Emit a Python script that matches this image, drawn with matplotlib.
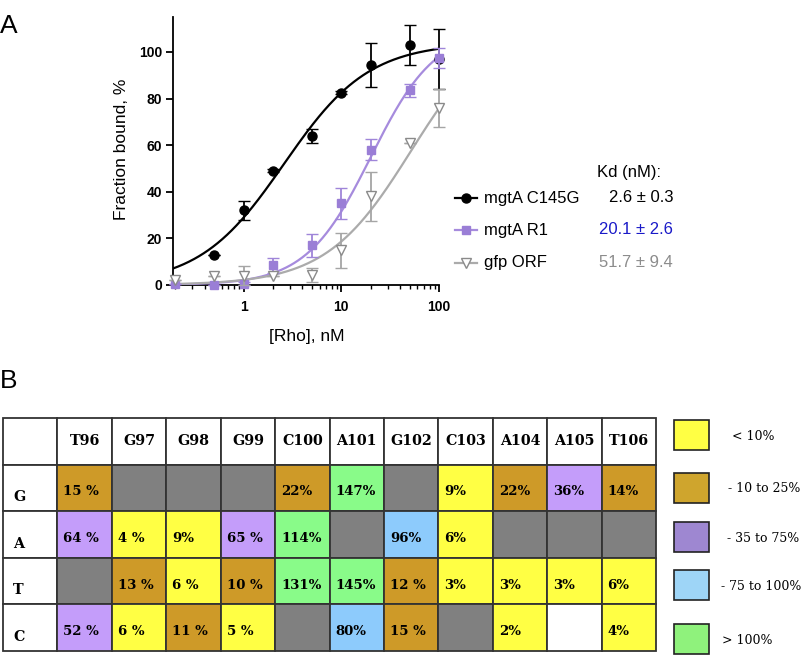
import numpy as np
import matplotlib
matplotlib.use("Agg")
import matplotlib.pyplot as plt
from matplotlib.lines import Line2D
from matplotlib.patches import Rectangle
from matplotlib.ticker import FixedLocator, NullFormatter

plt.rcParams['font.family'] = ['Liberation Sans', 'DejaVu Sans']

# ---------------- Panel A data ----------------
conc = [0.2, 0.5, 1, 2, 5, 10, 20, 50, 100]
c145g = [np.nan, 13, 32, 49, 64, 82.5, 94.5, 103, 97]
c145g_err = [0, 0, 4, 0.6, 3, 0.6, 9.5, 8.5, 13]
r1 = [0.3, 0.2, 0.6, 8.5, 17, 35, 58, 83.5, 97.5]
r1_err = [0, 0, 0.5, 3.3, 4.8, 6.8, 4.5, 2.7, 4.3]
gfp = [2, 4, 4, 4, 4.5, 15, 38, 61, 76]
gfp_err = [0, 0, 4, 0, 3, 7.5, 10.5, 0, 8]

series_names = ["mgtA C145G", "mgtA R1", "gfp ORF"]
kd_labels = ["2.6 \u00b1 0.3", "20.1 \u00b1 2.6", "51.7 \u00b1 9.4"]
# fitted binding-curve parameters (Kd, Bmax, Hill slope)
fit_kd = [2.6, 20.1, 51.7]
fit_bmax = [104, 110, 115]
fit_hill = [1.0, 1.31, 1.0]

# ---------------- Panel B data ----------------
positions = ["T96", "G97", "G98", "G99", "C100", "A101", "G102", "C103", "A104", "A105", "T106"]
bases = ["G", "A", "T", "C"]
cell_text = [
    ["15 %", "", "", "", "22%", "147%", "", "9%", "22%", "36%", "14%"],
    ["64 %", "4 %", "9%", "65 %", "114%", "", "96%", "6%", "", "", ""],
    ["", "13 %", "6 %", "10 %", "131%", "145%", "12 %", "3%", "3%", "3%", "6%"],
    ["52 %", "6 %", "11 %", "5 %", "", "80%", "15 %", "", "2%", "", "4%"],
]
# categories: y <10%, o 10-25%, p 35-75%, b 75-100%, g >100%, x gray (n/a), w white
cell_cat = [
    ["o", "x", "x", "x", "o", "g", "x", "y", "o", "p", "o"],
    ["p", "y", "y", "p", "g", "x", "b", "y", "x", "x", "x"],
    ["x", "o", "y", "o", "g", "g", "o", "y", "y", "y", "y"],
    ["p", "y", "o", "y", "x", "b", "o", "x", "y", "w", "y"],
]
legend_labels = ["< 10%", "- 10 to 25%", "- 35 to 75%", "- 75 to 100%", "> 100%"]

cell_colors = {"y": "#FFFF44", "o": "#CE9A28", "p": "#C49DFA", "b": "#8DCBFC",
               "g": "#89FB89", "x": "#808080", "w": "#FFFFFF"}
legend_colors = ["#FFFF44", "#CFA52D", "#9E87D1", "#9ED5F7", "#8FF27C"]

W, H = 805, 657
fig = plt.figure(figsize=(W / 100, H / 100), dpi=100)


def fx(px):
    return px / W


def fy(py):
    return 1 - py / H


# ---------------- Panel A ----------------
ax = fig.add_axes([fx(173), fy(285), fx(439) - fx(173), fy(17) - fy(285)])
ax.set_xscale("log")
ax.set_xlim(0.19, 100)
ax.set_ylim(0, 115)

styles = [
    dict(color="black", curve="black", marker="o", ms=6.5, mfc="black", mec="black", ecolor="black"),
    dict(color="#9A7ED6", curve="#A68BDD", marker="s", ms=6, mfc="#9A7ED6", mec="#9A7ED6", ecolor="#9F85D9"),
    dict(color="#9A9A9A", curve="#ABABAB", marker="v", ms=7, mfc="white", mec="#8A8A8A", ecolor="#A5A5A5"),
]
data = [(c145g, c145g_err), (r1, r1_err), (gfp, gfp_err)]
xs = np.geomspace(0.19, 100, 400)
for i in [2, 1, 0]:
    st = styles[i]
    yv, ye = data[i]
    K, B, n = fit_kd[i], fit_bmax[i], fit_hill[i]
    ax.plot(xs, B * xs ** n / (K ** n + xs ** n), color=st["curve"], lw=1.6, zorder=2 + i)
    eb = ax.errorbar(conc, yv, yerr=ye, fmt=st["marker"], ms=st["ms"], mfc=st["mfc"],
                     mec=st["mec"], mew=1.0, ecolor=st["ecolor"], elinewidth=1.3,
                     capsize=4.5, capthick=1.3, zorder=5 + i, clip_on=False)
    for a in list(eb.lines[1]) + list(eb.lines[2]):
        a.set_clip_on(False)

for s in ["top", "right"]:
    ax.spines[s].set_visible(False)
ax.spines["left"].set_linewidth(1.3)
ax.spines["bottom"].set_linewidth(1.3)
ax.set_yticks([0, 20, 40, 60, 80, 100])
ax.set_xticks([1, 10, 100])
ax.set_xticklabels(["1", "10", "100"])
minor = [v * d for d in [0.1, 1, 10] for v in range(2, 10) if v * d >= 0.19]
ax.xaxis.set_minor_locator(FixedLocator(minor))
ax.xaxis.set_minor_formatter(NullFormatter())
ax.tick_params(axis="both", which="major", direction="out", length=5, width=1.3,
               labelsize=10)
ax.tick_params(axis="x", which="minor", direction="out", length=3, width=1.0)
ax.tick_params(axis="y", pad=3)
ax.tick_params(axis="x", pad=6)
for lab in ax.get_xticklabels() + ax.get_yticklabels():
    lab.set_fontweight("bold")

fig.text(fx(122), fy(149), "Fraction bound, %", rotation=90, ha="center", va="center", fontsize=12.5)
fig.text(fx(307), fy(337), "[Rho], nM", ha="center", va="center", fontsize=12.5)
fig.text(fx(0), fy(26), "A", ha="left", va="center", fontsize=19)
fig.text(fx(0), fy(381), "B", ha="left", va="center", fontsize=19)

# legend of panel A
fig.text(fx(597), fy(172), "Kd (nM):", ha="left", va="center", fontsize=12)
kd_colors = ["black", "#1A1AC8", "#8C8C8C"]
rows_y = [198, 230, 263]
for i in range(3):
    st = styles[i]
    y = fy(rows_y[i])
    fig.add_artist(Line2D([fx(455), fx(477)], [y, y], color=st["curve"], lw=1.6,
                          transform=fig.transFigure))
    fig.add_artist(Line2D([fx(466)], [y], marker=st["marker"], ms=st["ms"], mfc=st["mfc"],
                          mec=st["mec"], mew=1.0, transform=fig.transFigure, ls="none"))
    fig.text(fx(484), y, series_names[i], ha="left", va="center", fontsize=12)
    fig.text(fx(673), y, kd_labels[i], ha="right", va="center", fontsize=12, color=kd_colors[i])

# ---------------- Panel B ----------------
tax = fig.add_axes([0, 0, 1, 1])
tax.set_xlim(0, W)
tax.set_ylim(H, 0)
tax.axis("off")
tax.patch.set_visible(False)

xe = np.linspace(3, 656, len(positions) + 2)
ye = np.linspace(418, 651, len(bases) + 2)
edge = "#333333"
tfont = dict(family="DejaVu Serif", fontweight="bold", fontsize=9.5)
hfont = dict(family="DejaVu Serif", fontweight="bold", fontsize=10.3)

# header row
for j in range(len(positions) + 1):
    tax.add_patch(Rectangle((xe[j], ye[0]), xe[j + 1] - xe[j], ye[1] - ye[0],
                            facecolor="white", edgecolor=edge, lw=1.3))
    if j > 0:
        tax.text((xe[j] + xe[j + 1]) / 2, (ye[0] + ye[1]) / 2, positions[j - 1],
                 ha="center", va="center", **hfont)
for i, b in enumerate(bases):
    y0, y1 = ye[i + 1], ye[i + 2]
    tax.add_patch(Rectangle((xe[0], y0), xe[1] - xe[0], y1 - y0,
                            facecolor="white", edgecolor=edge, lw=1.3))
    tax.text(xe[0] + 10, (y0 + y1) / 2 + 9, b, ha="left", va="center", **hfont)
    for j in range(len(positions)):
        x0, x1 = xe[j + 1], xe[j + 2]
        tax.add_patch(Rectangle((x0, y0), x1 - x0, y1 - y0,
                                facecolor=cell_colors[cell_cat[i][j]], edgecolor=edge, lw=1.3))
        if cell_text[i][j]:
            tax.text(x0 + 6, (y0 + y1) / 2 + 4, cell_text[i][j], ha="left", va="center", **tfont)

# legend of panel B
box_y = [420, 473, 522, 570, 624]
lab_x = [732, 728, 727, 721, 722]
for k in range(5):
    tax.add_patch(Rectangle((674, box_y[k]), 35, 30, facecolor=legend_colors[k],
                            edgecolor="#222222", lw=1.2))
    tax.text(lab_x[k], box_y[k] + 16, legend_labels[k], ha="left", va="center",
             family="DejaVu Serif", fontsize=9)

fig.savefig("out.png", dpi=100)
